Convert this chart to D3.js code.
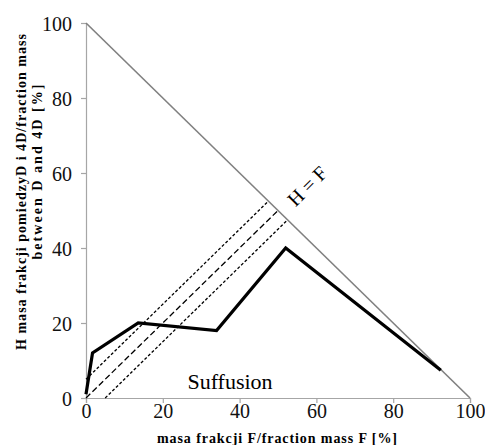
<!DOCTYPE html>
<html>
<head>
<meta charset="utf-8">
<script src="https://cdn.jsdelivr.net/npm/d3@7"></script>
<style>
  body { margin: 0; background: #fff; }
</style>
</head>
<body>
<div id="vis"></div>
<script>
// measured curve (F, H)
const curveF = [0, 1.7, 13.6, 34, 52, 92.4];
const curveH = [1, 12, 20, 18, 40, 7.4];

// dashed offset lines, each ends on H = F
const offsetLines = [
  { from: [0, 5], to: [47.5, 52.5], dash: "3,2" },
  { from: [0, 0], to: [50, 50], dash: "6,3" },
  { from: [5, 0], to: [52.5, 47.5], dash: "3,2" }
];

const diagF = [0, 100];
const diagH = [100, 0];

const xTicks = [0, 20, 40, 60, 80, 100];
const yTicks = [0, 20, 40, 60, 80, 100];

const FRAME_WIDTH = 485;
const FRAME_HEIGHT = 445;
const SERIF = "'Liberation Serif', 'Times New Roman', serif";

const FRAME = d3.select("#vis")
  .append("svg")
    .attr("width", FRAME_WIDTH)
    .attr("height", FRAME_HEIGHT)
    .attr("font-family", SERIF);

const x = d3.scaleLinear().domain([0, 100]).range([86, 470]);
const y = d3.scaleLinear().domain([0, 100]).range([398, 23]);

// axes
const xAxis = FRAME.append("g")
  .attr("transform", `translate(0,${y(0)})`)
  .call(d3.axisBottom(x).tickValues(xTicks).tickSize(5).tickPadding(1));
const yAxis = FRAME.append("g")
  .attr("transform", `translate(${x(0)},0)`)
  .call(d3.axisLeft(y).tickValues(yTicks).tickSize(5).tickPadding(9));

[xAxis, yAxis].forEach(a => {
  a.attr("font-family", SERIF).attr("font-size", 20);
  a.select(".domain").attr("stroke", "#a6a6a6").attr("stroke-width", 1.2);
  a.selectAll(".tick line").attr("stroke", "#a6a6a6").attr("stroke-width", 1.2);
  a.selectAll(".tick text").attr("fill", "#111");
});
yAxis.selectAll(".tick text").attr("dy", "0.35em");

// H = F diagonal
FRAME.append("line")
  .attr("x1", x(diagF[0])).attr("y1", y(diagH[0]))
  .attr("x2", x(diagF[1])).attr("y2", y(diagH[1]))
  .attr("stroke", "#808080")
  .attr("stroke-width", 1.6);

// dashed lines
FRAME.selectAll(".offset")
  .data(offsetLines)
  .enter()
  .append("line")
    .attr("x1", d => x(d.from[0])).attr("y1", d => y(d.from[1]))
    .attr("x2", d => x(d.to[0])).attr("y2", d => y(d.to[1]))
    .attr("stroke", "#000")
    .attr("stroke-width", 1.3)
    .attr("stroke-dasharray", d => d.dash);

// curve
const pts = curveF.map((f, i) => [f, curveH[i]]);
FRAME.append("path")
  .datum(pts)
  .attr("d", d3.line().x(d => x(d[0])).y(d => y(d[1])))
  .attr("fill", "none")
  .attr("stroke", "#000")
  .attr("stroke-width", 3.2)
  .attr("stroke-linejoin", "miter");

// labels
FRAME.append("text")
  .attr("x", 230).attr("y", 389)
  .attr("text-anchor", "middle")
  .attr("font-size", 22)
  .text("Suffusion");

FRAME.append("text")
  .attr("transform", "translate(312,191) rotate(-45)")
  .attr("text-anchor", "middle")
  .attr("font-size", 20)
  .text("H = F");

FRAME.append("text")
  .attr("x", 277).attr("y", 443)
  .attr("text-anchor", "middle")
  .attr("font-size", 14)
  .attr("font-weight", "bold")
  .attr("textLength", 240)
  .text("masa frakcji F/fraction mass F [%]");

FRAME.append("text")
  .attr("transform", "translate(26,192) rotate(-90)")
  .attr("text-anchor", "middle")
  .attr("font-size", 14)
  .attr("font-weight", "bold")
  .attr("textLength", 316)
  .text("H masa frakcji pomiedzyD i 4D/fraction mass");

FRAME.append("text")
  .attr("transform", "translate(42,172) rotate(-90)")
  .attr("text-anchor", "middle")
  .attr("font-size", 14)
  .attr("font-weight", "bold")
  .attr("textLength", 175)
  .text("between D and 4D [%]");
</script>
</body>
</html>
